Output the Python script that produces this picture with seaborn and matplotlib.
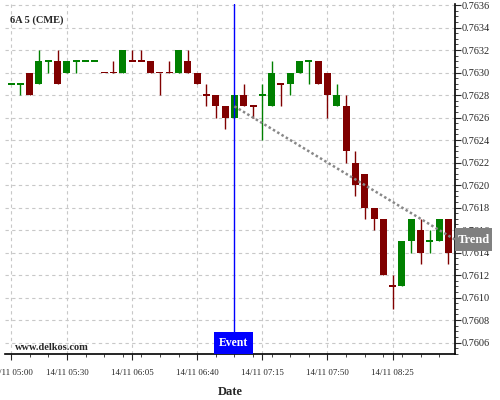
import numpy as np
import pandas as pd
import seaborn as sns
import matplotlib.pyplot as plt
import matplotlib.transforms as mtransforms
from matplotlib.patches import Rectangle
from matplotlib.ticker import MultipleLocator, FixedLocator

sns.set_style("white")
plt.rcParams["font.family"] = ["Liberation Serif", "DejaVu Serif"]

# 5 minute bars, 14/11 05:00 -> 08:55
times = pd.date_range("2023-11-14 05:00", periods=48, freq="5min")
opens = [0.7629, 0.7629, 0.7630, 0.7629, 0.7631, 0.7631, 0.7630, 0.7631, 0.7631, 0.7631,
         0.7630, 0.7630, 0.7630, 0.7631, 0.7631, 0.7631, 0.7630, 0.7630, 0.7630, 0.7631,
         0.7630, 0.7628, 0.7628, 0.7627, 0.7626, 0.7628, 0.7627, 0.7628, 0.7627, 0.7629,
         0.7629, 0.7630, 0.7631, 0.7631, 0.7630, 0.7627, 0.7627, 0.7622, 0.7621, 0.7618,
         0.7617, 0.7611, 0.7611, 0.7615, 0.7616, 0.7615, 0.7615, 0.7617]
highs = [0.7629, 0.7629, 0.7630, 0.7632, 0.7631, 0.7632, 0.7631, 0.7631, 0.7631, 0.7631,
         0.7630, 0.7631, 0.7632, 0.7632, 0.7632, 0.7631, 0.7630, 0.7631, 0.7632, 0.7632,
         0.7630, 0.7629, 0.7628, 0.7627, 0.7628, 0.7629, 0.7627, 0.7629, 0.7631, 0.7629,
         0.7630, 0.7631, 0.7631, 0.7631, 0.7630, 0.7629, 0.7628, 0.7623, 0.7621, 0.7618,
         0.7617, 0.7612, 0.7615, 0.7617, 0.7617, 0.7616, 0.7617, 0.7617]
lows = [0.7629, 0.7628, 0.7628, 0.7629, 0.7630, 0.7629, 0.7630, 0.7630, 0.7631, 0.7631,
        0.7630, 0.7630, 0.7630, 0.7631, 0.7631, 0.7630, 0.7628, 0.7630, 0.7630, 0.7630,
        0.7629, 0.7627, 0.7626, 0.7625, 0.7626, 0.7627, 0.7626, 0.7624, 0.7627, 0.7627,
        0.7628, 0.7630, 0.7629, 0.7629, 0.7626, 0.7627, 0.7622, 0.7619, 0.7617, 0.7616,
        0.7612, 0.7609, 0.7611, 0.7614, 0.7613, 0.7614, 0.7615, 0.7613]
closes = [0.7629, 0.7629, 0.7628, 0.7631, 0.7631, 0.7629, 0.7631, 0.7631, 0.7631, 0.7631,
          0.7630, 0.7630, 0.7632, 0.7631, 0.7631, 0.7630, 0.7630, 0.7630, 0.7632, 0.7630,
          0.7629, 0.7628, 0.7627, 0.7626, 0.7628, 0.7627, 0.7627, 0.7628, 0.7630, 0.7629,
          0.7630, 0.7631, 0.7631, 0.7629, 0.7628, 0.7628, 0.7623, 0.7620, 0.7618, 0.7617,
          0.7612, 0.7611, 0.7615, 0.7617, 0.7614, 0.7615, 0.7617, 0.7614]
# 1 = up bar (green), 0 = down bar (red); needed for the flat bars
up = [1, 1, 0, 1, 1, 0, 1, 1, 1, 1, 0, 0, 1, 0, 0, 0, 0, 0, 1, 0, 0, 0, 0, 0,
      1, 0, 0, 1, 1, 0, 1, 1, 1, 0, 0, 1, 0, 0, 0, 0, 0, 0, 1, 1, 0, 1, 1, 0]

event_bar = 24
trend_x = [24, 48]
trend_y = [0.7627, 0.7615]
label_bars = [0, 6, 13, 20, 27, 34, 41]

df = pd.DataFrame({"o": opens, "h": highs, "l": lows, "c": closes, "up": up})
df["i"] = np.arange(len(df))
df["col"] = np.where(df["up"] == 1, "#008000", "#800000")
df["bot"] = df[["o", "c"]].min(axis=1)
df["hgt"] = (df["c"] - df["o"]).abs()
flat = df["hgt"] < 1e-9
df.loc[flat, "hgt"] = 0.000016
df.loc[flat, "bot"] = df.loc[flat, "o"] - 0.000008

fig = plt.figure(figsize=(5, 4), dpi=100)
ax = fig.add_axes([0.01, 0.115, 0.90, 0.876])

ax.vlines(df["i"], df["l"], df["h"], colors=df["col"], lw=1.0, zorder=2)
ax.bar(df["i"], df["hgt"], bottom=df["bot"], width=0.75, color=df["col"], lw=0, zorder=3)

ax.axvline(event_bar, color="blue", lw=1.0, zorder=4)
sns.lineplot(x=trend_x, y=trend_y, ax=ax, color="#888888", lw=1.8,
             linestyle=(0, (1, 1)), zorder=5)

ax.set_xlim(-0.65, 47.7)
ax.set_ylim(0.760498, 0.763613)

trend_end = trend_y[0] + (trend_y[1] - trend_y[0]) * (47.7 - trend_x[0]) / (trend_x[1] - trend_x[0])

ax.xaxis.set_major_locator(FixedLocator(label_bars))
ax.set_xticklabels(["14/11 " + times[k].strftime("%H:%M") for k in label_bars], fontsize=6.4)
ax.xaxis.set_minor_locator(MultipleLocator(2))
ax.yaxis.set_major_locator(MultipleLocator(0.0002))
ax.yaxis.set_minor_locator(MultipleLocator(0.00005))
ax.yaxis.tick_right()
# the label hidden under the trend box is left out
ax.yaxis.set_major_formatter(plt.FuncFormatter(
    lambda v, p: "" if abs(v - trend_end) < 0.00008 else f"{v:.4f}"))
ax.tick_params(axis="y", which="major", labelsize=7.4, length=4, width=0.8, pad=1, direction="out")
ax.tick_params(axis="y", which="minor", length=2, width=0.6, right=True)
ax.tick_params(axis="x", which="major", length=4, width=0.8, pad=7, bottom=True)
ax.tick_params(axis="x", which="minor", length=2, width=0.6, bottom=True)

ax.grid(True, which="major", color="#c8c8c8", ls=(0, (3, 3)), lw=0.8)
for s in ["left", "top"]:
    ax.spines[s].set_visible(False)
for s in ["right", "bottom"]:
    ax.spines[s].set_color("black")
    ax.spines[s].set_linewidth(1.2)

ax.set_xlabel("Date", fontsize=9, fontweight="bold", labelpad=6)
ax.text(0.011, 0.965, "6A 5 (CME)", transform=ax.transAxes, fontsize=7.5,
        fontweight="bold", va="top", ha="left")
ax.text(0.022, 0.006, "www.delkos.com", transform=ax.transAxes, fontsize=7.5,
        fontweight="bold", va="bottom", ha="left")

# event box at the bottom of the event line
bt = mtransforms.blended_transform_factory(ax.transData, ax.transAxes)
ax.text(event_bar - 0.1, 0.015, "Event", transform=bt, color="white", fontsize=8.5,
        fontweight="bold", ha="center", va="bottom", zorder=6,
        bbox=dict(boxstyle="square,pad=0.42", fc="blue", ec="none"))

# trend label on the right axis
bt2 = mtransforms.blended_transform_factory(ax.transAxes, ax.transData)
ax.add_patch(Rectangle((1.0, trend_end - 0.000105), 0.083, 0.000205, transform=bt2,
                       fc="#808080", ec="none", clip_on=False, zorder=6))
ax.text(1.0415, trend_end, "Trend", transform=bt2, color="white", fontsize=9,
        fontweight="bold", ha="center", va="center", zorder=7)

fig.savefig("out.png", dpi=100)
